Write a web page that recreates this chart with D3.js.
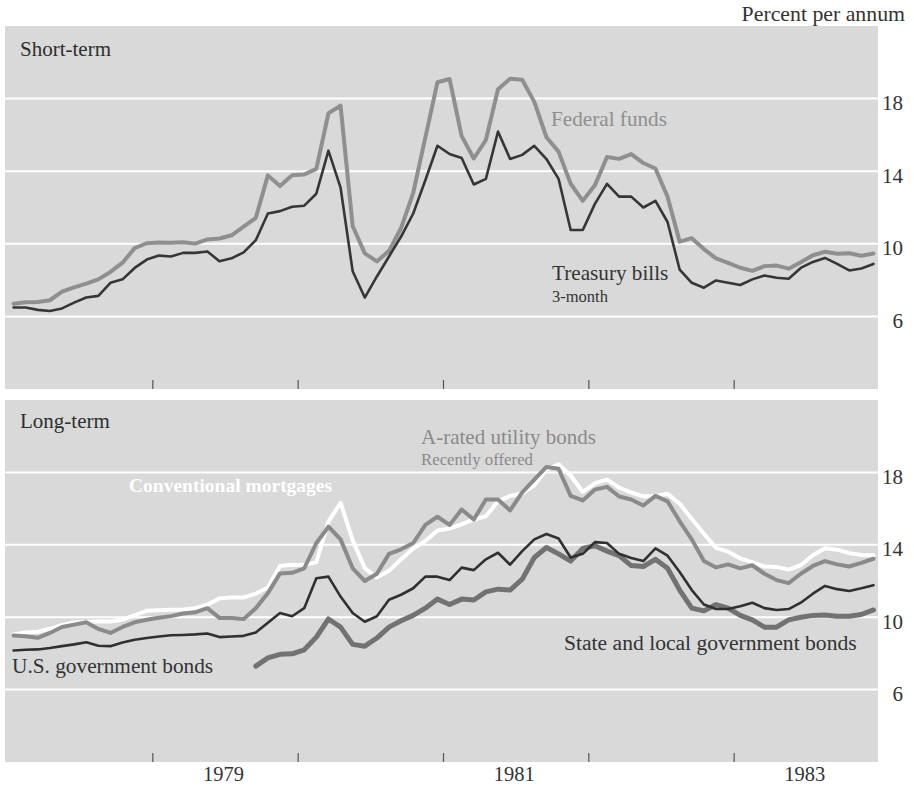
<!DOCTYPE html>
<html>
<head>
<meta charset="utf-8">
<script src="https://cdn.jsdelivr.net/npm/d3@7"></script>
<style>
  body { margin: 0; background: #fff; }
  svg { display: block; font-family: "Liberation Serif", "DejaVu Serif", serif; }
</style>
</head>
<body>
<div id="chart"></div>
<script>
// monthly averages, Jan 1978 - Dec 1983 (percent per annum)
const startYear = 1978
const yearTicks = [1979, 1980, 1981, 1982, 1983]
const yearLabels = [1979, 1981, 1983]
const rateTicks = [6, 10, 14, 18]

const fedFunds = [
  6.70, 6.78, 6.79, 6.89, 7.36, 7.60, 7.81, 8.04, 8.45, 8.96, 9.76, 10.03,
  10.07, 10.06, 10.09, 10.01, 10.24, 10.29, 10.47, 10.94, 11.43, 13.77, 13.18, 13.78,
  13.82, 14.13, 17.19, 17.61, 10.98, 9.47, 9.03, 9.61, 10.87, 12.81, 15.85, 18.90,
  19.08, 15.93, 14.70, 15.72, 18.52, 19.10, 19.04, 17.82, 15.87, 15.08, 13.31, 12.37,
  13.22, 14.78, 14.68, 14.94, 14.45, 14.15, 12.59, 10.12, 10.31, 9.71, 9.20, 8.95,
  8.68, 8.51, 8.77, 8.80, 8.63, 8.98, 9.37, 9.56, 9.45, 9.48, 9.34, 9.47
]
const treasuryBills = [
  6.49, 6.49, 6.36, 6.30, 6.44, 6.76, 7.04, 7.13, 7.85, 8.04, 8.67, 9.13,
  9.35, 9.30, 9.50, 9.50, 9.58, 9.04, 9.20, 9.53, 10.20, 11.67, 11.80, 12.04,
  12.10, 12.76, 15.13, 13.10, 8.49, 7.04, 8.20, 9.30, 10.40, 11.67, 13.50, 15.40,
  14.95, 14.73, 13.27, 13.58, 16.18, 14.67, 14.90, 15.40, 14.67, 13.58, 10.76, 10.76,
  12.20, 13.30, 12.60, 12.60, 12.00, 12.36, 11.20, 8.58, 7.85, 7.58, 7.98, 7.85,
  7.73, 8.04, 8.25, 8.13, 8.07, 8.67, 9.00, 9.22, 8.89, 8.53, 8.64, 8.89
]
const mortgages = [
  9.05, 9.15, 9.20, 9.36, 9.57, 9.71, 9.74, 9.78, 9.76, 9.86, 10.11, 10.35,
  10.39, 10.41, 10.43, 10.50, 10.69, 11.04, 11.09, 11.09, 11.30, 11.64, 12.83, 12.90,
  12.88, 13.04, 15.28, 16.32, 14.26, 12.71, 12.19, 12.56, 13.20, 13.79, 14.21, 14.79,
  14.90, 15.13, 15.40, 15.58, 16.40, 16.70, 16.83, 17.29, 18.16, 18.45, 17.83, 16.92,
  17.40, 17.60, 17.16, 16.89, 16.68, 16.70, 16.82, 16.27, 15.43, 14.61, 13.83, 13.62,
  13.25, 13.04, 12.80, 12.78, 12.63, 12.87, 13.42, 13.81, 13.73, 13.54, 13.44, 13.42
]
const utilityBonds = [
  8.99, 8.95, 8.86, 9.13, 9.46, 9.59, 9.72, 9.35, 9.13, 9.46, 9.72, 9.86,
  9.97, 10.06, 10.20, 10.27, 10.50, 9.96, 9.96, 9.90, 10.50, 11.33, 12.42, 12.45,
  12.70, 14.10, 15.00, 14.30, 12.70, 12.00, 12.40, 13.50, 13.75, 14.10, 15.10, 15.55,
  15.10, 15.95, 15.40, 16.50, 16.50, 15.90, 16.90, 17.60, 18.30, 18.20, 16.70, 16.45,
  17.05, 17.20, 16.67, 16.50, 16.17, 16.70, 16.40, 15.30, 14.30, 13.10, 12.75, 12.92,
  12.70, 12.87, 12.40, 12.05, 11.88, 12.40, 12.83, 13.10, 12.92, 12.80, 13.00, 13.23
]
const govBonds = [
  8.16, 8.20, 8.22, 8.30, 8.40, 8.50, 8.62, 8.42, 8.40, 8.60, 8.75, 8.85,
  8.93, 9.00, 9.02, 9.05, 9.10, 8.90, 8.93, 8.97, 9.15, 9.70, 10.23, 10.05,
  10.50, 12.15, 12.24, 11.14, 10.23, 9.75, 10.05, 10.96, 11.24, 11.60, 12.24, 12.24,
  12.05, 12.74, 12.60, 13.20, 13.56, 12.90, 13.65, 14.30, 14.60, 14.35, 13.30, 13.50,
  14.15, 14.10, 13.50, 13.27, 13.10, 13.80, 13.40, 12.50, 11.50, 10.70, 10.45, 10.45,
  10.60, 10.80, 10.50, 10.40, 10.45, 10.80, 11.30, 11.73, 11.55, 11.45, 11.60, 11.77
]
// series starts in September 1979
const stateLocalBonds = [
  null, null, null, null, null, null, null, null, null, null, null, null,
  null, null, null, null, null, null, null, null, 7.30, 7.75, 7.95, 7.98,
  8.20, 8.90, 9.90, 9.45, 8.50, 8.40, 8.85, 9.45, 9.80, 10.10, 10.50, 11.00,
  10.70, 11.00, 10.95, 11.40, 11.55, 11.50, 12.10, 13.30, 13.85, 13.50, 13.10, 13.80,
  13.95, 13.65, 13.40, 12.85, 12.80, 13.20, 12.70, 11.50, 10.50, 10.35, 10.70, 10.50,
  10.10, 9.85, 9.45, 9.45, 9.85, 10.00, 10.10, 10.12, 10.05, 10.05, 10.15, 10.40
]

drawChart("#chart")

function drawChart(id){
    const canvas = createCanvas()
    const svg = addSvg(id, canvas)
    const xScale = d3.scaleLinear().domain([startYear, startYear + 6]).range([7.5, 879.5])

    const top = addPanel(svg, canvas, canvas.panels[0], xScale)
    addLine(top, xScale, fedFunds, "#8f8f8f", 4)
    addLine(top, xScale, treasuryBills, "#363636", 2.6)

    const bottom = addPanel(svg, canvas, canvas.panels[1], xScale)
    addLine(bottom, xScale, mortgages, "#ffffff", 4)
    addLine(bottom, xScale, utilityBonds, "#8a8a8a", 4)
    addLine(bottom, xScale, stateLocalBonds, "#727272", 5)
    addLine(bottom, xScale, govBonds, "#303030", 2.6)

    addLabels(svg, xScale, canvas)
}

function createCanvas(){
    return {
        width: 914, height: 787,
        left: 5, right: 878,
        panels: [{top: 26, bottom: 389, title: "Short-term", titleY: 56}, {top: 400, bottom: 762, title: "Long-term", titleY: 428}]
    }
}

function addSvg(id, canvas){
    return d3.select(id).append("svg")
      .attr("width", canvas.width).attr("height", canvas.height)
      .attr("viewBox", `0 0 ${canvas.width} ${canvas.height}`)
}

function addPanel(svg, canvas, panel, xScale){
    const yScale = d3.scaleLinear().domain([2, 22]).range([panel.bottom, panel.top])
    const g = svg.append("g")

    g.append("rect")
      .attr("x", canvas.left).attr("y", panel.top)
      .attr("width", canvas.right - canvas.left).attr("height", panel.bottom - panel.top)
      .attr("fill", "#d9d9d9")

    g.selectAll(".grid").data(rateTicks).join("line")
      .attr("x1", canvas.left).attr("x2", canvas.right)
      .attr("y1", d => yScale(d)).attr("y2", d => yScale(d))
      .attr("stroke", "#fff").attr("stroke-width", 2)

    g.selectAll(".tick").data(yearTicks).join("line")
      .attr("x1", d => xScale(d)).attr("x2", d => xScale(d))
      .attr("y1", panel.bottom - 9).attr("y2", panel.bottom)
      .attr("stroke", "#555").attr("stroke-width", 1.2)

    g.selectAll(".ylab").data(rateTicks).join("text")
      .attr("x", 903).attr("y", d => yScale(d) + 11.5)
      .attr("text-anchor", "end").attr("font-size", 21).attr("fill", "#333")
      .text(d => d)

    g.append("text")
      .attr("x", 20).attr("y", panel.titleY)
      .attr("font-size", 21).attr("fill", "#2e2e2e")
      .text(panel.title)

    return {g, yScale}
}

function addLine(panel, xScale, values, color, width){
    const line = d3.line()
      .defined(d => d != null)
      .x((d, i) => xScale(startYear + (i + 0.5) / 12))
      .y(d => panel.yScale(d))

    panel.g.append("path")
      .datum(values)
      .attr("d", line)
      .attr("fill", "none")
      .attr("stroke", color).attr("stroke-width", width)
      .attr("stroke-linejoin", "round").attr("stroke-linecap", "round")
}

function addLabels(svg, xScale, canvas){
    const label = (x, y, text, size, color, weight) =>
      svg.append("text").attr("x", x).attr("y", y)
        .attr("font-size", size).attr("fill", color)
        .attr("font-weight", weight || "normal")
        .text(text)

    label(905, 21, "Percent per annum", 21.8, "#333").attr("text-anchor", "end")

    label(551, 126, "Federal funds", 21.2, "#8f8f8f")
    label(552, 280, "Treasury bills", 21.2, "#333")
    label(552, 302, "3-month", 16.5, "#333")

    label(421, 444, "A-rated utility bonds", 21, "#8a8a8a")
    label(421, 465, "Recently offered", 16.8, "#8a8a8a")
    label(129, 492, "Conventional mortgages", 19.5, "#ffffff", "bold")
    label(12, 673, "U.S. government bonds", 21.3, "#333")
    label(564, 650, "State and local government bonds", 21.6, "#333")

    svg.selectAll(".year").data(yearLabels).join("text")
      .attr("x", d => xScale(d + 0.5) - 2).attr("y", 781)
      .attr("text-anchor", "middle").attr("font-size", 20.5).attr("fill", "#333")
      .text(d => d)
}
</script>
</body>
</html>
